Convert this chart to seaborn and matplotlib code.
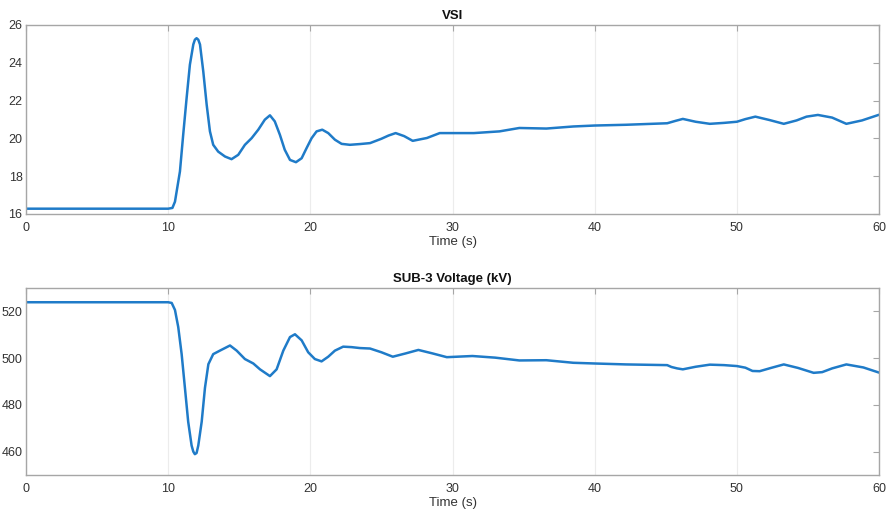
import matplotlib
matplotlib.use("Agg")
import matplotlib.pyplot as plt
import seaborn as sns
import pandas as pd

# VSI response
vsi_t = [0, 10.0, 10.3, 10.48, 10.83, 11.06, 11.3, 11.53, 11.77, 11.88, 12.0, 12.12,
         12.24, 12.47, 12.71, 12.94, 13.17, 13.52, 14.0, 14.46, 14.93, 15.4, 15.87,
         16.34, 16.8, 17.16, 17.5, 17.86, 18.2, 18.57, 18.99, 19.39, 19.74, 20.09,
         20.44, 20.84, 21.26, 21.73, 22.2, 22.78, 23.49, 24.2, 25.0, 25.5, 26.0,
         26.6, 27.2, 28.2, 29.1, 30, 31.5, 33.3, 34.7, 36.6, 38.5, 40, 42.2, 45.1,
         45.7, 46.2, 47.1, 48.1, 49.1, 50.0, 50.6, 51.3, 52.3, 53.3, 54.2, 54.9,
         55.7, 56.7, 57.7, 58.8, 60]
vsi_v = [16.28, 16.28, 16.32, 16.65, 18.25, 20.2, 22.14, 23.9, 24.97, 25.22, 25.3,
         25.22, 24.97, 23.55, 21.78, 20.37, 19.66, 19.3, 19.04, 18.9, 19.13, 19.66,
         20.01, 20.46, 20.99, 21.22, 20.9, 20.19, 19.4, 18.86, 18.74, 18.95, 19.49,
         20.01, 20.37, 20.46, 20.28, 19.93, 19.71, 19.66, 19.7, 19.75, 19.98, 20.15,
         20.28, 20.12, 19.87, 20.02, 20.28, 20.28, 20.28, 20.37, 20.55, 20.52,
         20.63, 20.68, 20.72, 20.8, 20.93, 21.03, 20.88, 20.77, 20.82, 20.88, 21.02,
         21.15, 20.97, 20.77, 20.95, 21.15, 21.24, 21.1, 20.77, 20.95, 21.25]

# SUB-3 bus voltage (kV)
sub3_t = [0, 10.0, 10.25, 10.48, 10.71, 10.95, 11.18, 11.41, 11.65, 11.77, 11.88,
          12.0, 12.12, 12.36, 12.59, 12.83, 13.17, 13.64, 14.35, 14.82, 15.4, 15.99,
          16.46, 17.16, 17.63, 18.1, 18.57, 18.92, 19.39, 19.85, 20.32, 20.79, 21.26,
          21.73, 22.31, 22.9, 23.49, 24.2, 25.0, 25.8, 26.7, 27.6, 28.6, 29.6, 31.4,
          33.0, 34.7, 36.6, 38.5, 40, 42.2, 45.1, 45.4, 45.8, 46.2, 47.1, 48.1, 49.1,
          50.0, 50.6, 51.1, 51.6, 52.4, 53.3, 54.3, 55.4, 56.0, 56.7, 57.7, 58.9, 60]
sub3_v = [523.9, 523.9, 523.6, 520.6, 513.3, 501.7, 487.3, 472.8, 462.6, 460.0,
          458.9, 459.4, 462.6, 472.8, 487.3, 497.4, 501.7, 503.2, 505.4, 503.2,
          499.6, 497.7, 495.2, 492.3, 495.2, 503.2, 509.0, 510.2, 507.6, 502.5,
          499.6, 498.6, 500.6, 503.2, 504.9, 504.7, 504.3, 504.1, 502.5, 500.6,
          502.0, 503.5, 502.0, 500.4, 500.9, 500.2, 499.0, 499.1, 498.0, 497.7,
          497.3, 497.0, 496.2, 495.6, 495.2, 496.3, 497.2, 497.0, 496.6, 495.9,
          494.5, 494.4, 495.8, 497.3, 495.8, 493.7, 494.0, 495.6, 497.3, 496.0,
          493.8]

x_ticks = [0, 10, 20, 30, 40, 50, 60]
vsi_ticks = [16, 18, 20, 22, 24, 26]
sub3_ticks = [460, 480, 500, 520]

sns.set_theme(style="white")
plt.rcParams["font.family"] = ["Liberation Sans", "DejaVu Sans"]

line_color = "#1f7bc8"
frame_color = "#a6a6a6"
text_color = "#333333"

fig = plt.figure(figsize=(8.89, 5.15), dpi=100)
ax1 = fig.add_axes([0.0292, 0.5845, 0.9596, 0.3670])
ax2 = fig.add_axes([0.0292, 0.0777, 0.9596, 0.3631])

panels = [
    (ax1, vsi_t, vsi_v, "VSI", (16, 26), vsi_ticks),
    (ax2, sub3_t, sub3_v, "SUB-3 Voltage (kV)", (450, 530), sub3_ticks),
]

for ax, t, v, title, ylim, yticks in panels:
    df = pd.DataFrame({"t": t, "v": v})
    sns.lineplot(data=df, x="t", y="v", ax=ax, color=line_color, linewidth=1.8,
                 sort=False, solid_joinstyle="round", solid_capstyle="round")
    ax.set_xlim(0, 60)
    ax.set_ylim(*ylim)
    ax.set_xticks(x_ticks)
    ax.set_yticks(yticks)
    ax.set_xlabel("Time (s)", fontsize=9.5, color=text_color, labelpad=2)
    ax.set_ylabel("")
    ax.set_title(title, fontsize=9.5, fontweight="bold", color="#111111", pad=4)
    ax.grid(axis="x", color="#ececec", linewidth=0.8)
    ax.grid(axis="y", visible=False)
    ax.tick_params(axis="both", direction="in", length=4, width=0.8,
                   colors=frame_color, labelcolor=text_color, labelsize=9,
                   top=True, right=True, pad=2.5)
    ax.tick_params(axis="x", pad=5.5)
    for s in ax.spines.values():
        s.set_color(frame_color)
        s.set_linewidth(1.0)

fig.savefig("out.png", dpi=100)
